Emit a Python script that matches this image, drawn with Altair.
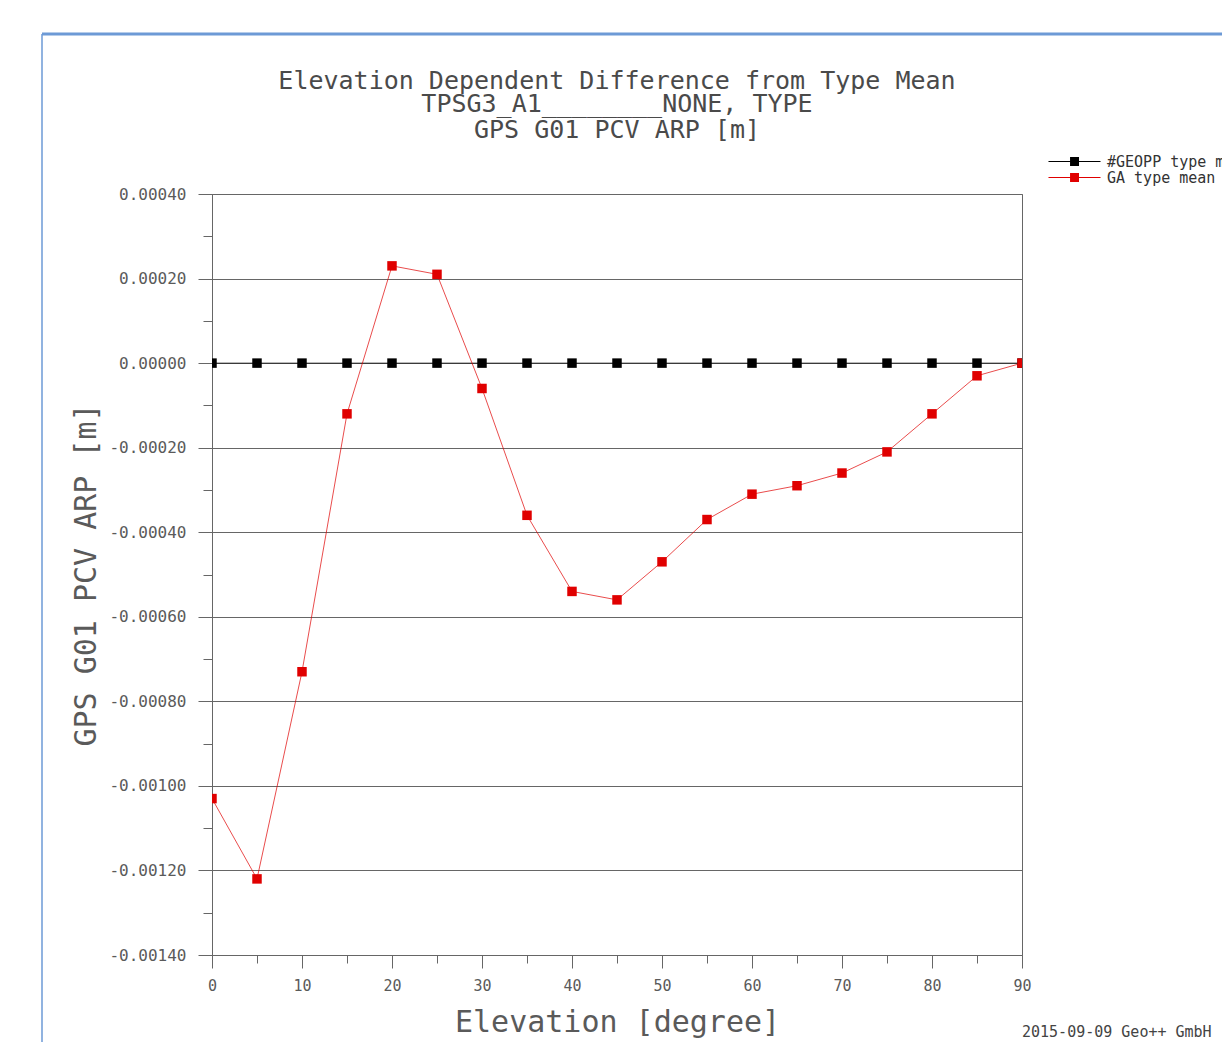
import altair as alt
import pandas as pd

# ---- data ----
elevation = [0, 5, 10, 15, 20, 25, 30, 35, 40, 45, 50, 55, 60, 65, 70, 75, 80, 85, 90]
geopp_mean = [0.0, 0.0, 0.0, 0.0, 0.0, 0.0, 0.0, 0.0, 0.0, 0.0,
              0.0, 0.0, 0.0, 0.0, 0.0, 0.0, 0.0, 0.0, 0.0]
ga_mean = [-0.00103, -0.00122, -0.00073, -0.00012, 0.00023, 0.00021, -0.00006,
           -0.00036, -0.00054, -0.00056, -0.00047, -0.00037, -0.00031, -0.00029,
           -0.00026, -0.00021, -0.00012, -0.00003, 0.0]
series_names = ["#GEOPP type mean", "GA type mean"]
series_colors = ["#000000", "#e00000"]
x_ticks = [0, 5, 10, 15, 20, 25, 30, 35, 40, 45, 50, 55, 60, 65, 70, 75, 80, 85, 90]
y_ticks = [-0.0014, -0.0013, -0.0012, -0.0011, -0.0010, -0.0009, -0.0008, -0.0007,
           -0.0006, -0.0005, -0.0004, -0.0003, -0.0002, -0.0001, 0.0, 0.0001,
           0.0002, 0.0003, 0.0004]
title_lines = ["Elevation Dependent Difference from Type Mean",
               "TPSG3_A1________NONE, TYPE",
               "GPS G01 PCV ARP [m]"]
footer_text = "2015-09-09 Geo++ GmbH"

rows = []
for name, vals in zip(series_names, [geopp_mean, ga_mean]):
    for e, v in zip(elevation, vals):
        rows.append({"elev": e, "val": v, "series": name})
df = pd.DataFrame(rows)

FONT = "DejaVu Sans Mono"
GRAY = "#666666"
TXT = "#5a5a5a"

x_enc = alt.X(
    "elev:Q",
    scale=alt.Scale(domain=[0, 90], nice=False, zero=False),
    axis=alt.Axis(
        values=x_ticks,
        labelExpr="datum.value % 10 === 0 ? datum.label : ''",
        tickSize={"condition": {"test": "datum.value % 10 !== 0", "value": 8}, "value": 13},
        labelPadding=10,
        labelFontSize=15,
        labelColor=TXT,
        labelFlush=False,
        labelOverlap=False,
        tickColor=GRAY,
        domainColor=GRAY,
        grid=False,
        title="Elevation [degree]",
        titleFontSize=30,
        titleFontWeight="normal",
        titleColor=TXT,
        titleBaseline="alphabetic",
        titleY=76,
    ),
)

minor_y = "round(datum.value*10000) % 2 !== 0"
y_enc = alt.Y(
    "val:Q",
    scale=alt.Scale(domain=[-0.0014, 0.0004], nice=False, zero=False),
    axis=alt.Axis(
        values=y_ticks,
        labelExpr="round(datum.value*10000) % 2 === 0 ? replace(format(datum.value, '.5f'), '\u2212', '-') : ''",
        tickSize={"condition": {"test": minor_y, "value": 9}, "value": 14},
        labelPadding=12,
        labelFontSize=16,
        labelColor=TXT,
        labelFlush=False,
        labelOverlap=False,
        tickColor=GRAY,
        domainColor=GRAY,
        grid=True,
        gridColor=GRAY,
        gridWidth=1.2,
        gridOpacity={"condition": {"test": minor_y, "value": 0}, "value": 1},
        title="GPS G01 PCV ARP [m]",
        titleFontSize=30,
        titleFontWeight="normal",
        titleColor=TXT,
        titleBaseline="alphabetic",
        titleX=-117,
        titleY=380.5,
    ),
)

legend_path = ("M-6.43,-0.07H1V0.07H-6.43Z "
               "M-3.35,-0.64H-2.07V0.64H-3.35Z")
legend = alt.Legend(
    title=None,
    orient="none",
    legendX=874,
    legendY=-40,
    symbolType=legend_path,
    symbolSize=196,
    symbolStrokeWidth=0,
    labelFontSize=15,
    labelColor="#333333",
    labelOffset=6,
    labelLimit=400,
    rowPadding=0,
    padding=0,
)
color_enc = alt.Color("series:N",
                      scale=alt.Scale(domain=series_names, range=series_colors),
                      legend=legend)

base = alt.Chart(df)

lines = base.mark_line(clip=True, strokeWidth=1, strokeOpacity=0.7).encode(
    x=x_enc, y=y_enc, color=color_enc,
)

points = base.mark_point(shape="square", filled=True, size=90, opacity=1, clip=True).encode(
    x=x_enc, y=y_enc, color=color_enc,
)

one = alt.Data(values=[{"k": 1}])
frame_top = alt.Chart(one).mark_rule(color="#6d9ad6", strokeWidth=3, clip=False).encode(
    x=alt.value(-170), x2=alt.value(1010), y=alt.value(-160)
)
frame_left = alt.Chart(one).mark_rule(color="#6d9ad6", strokeWidth=1.5, clip=False).encode(
    x=alt.value(-170), y=alt.value(-160), y2=alt.value(900)
)

title_layers = []
for line, ypos in zip(title_lines, [-105, -82, -56]):
    title_layers.append(
        alt.Chart(one).mark_text(
            text=line, font=FONT, fontSize=25, color="#4a4a4a",
            align="center", baseline="alphabetic", clip=False
        ).encode(x=alt.value(405), y=alt.value(ypos))
    )

footer = alt.Chart(one).mark_text(
    text=footer_text, font=FONT, fontSize=15, color="#444444",
    align="left", baseline="middle", clip=False
).encode(x=alt.value(810), y=alt.value(838))

chart = alt.layer(frame_top, frame_left, lines, points, *title_layers, footer).properties(
    width=810,
    height=761,
    autosize=alt.AutoSizeParams(type="none"),
    padding={"left": 204, "top": 186, "right": 200, "bottom": 87},
).configure(
    font=FONT,
    background="white",
).configure_view(
    stroke=GRAY, strokeWidth=1
).configure_axis(
    labelFont=FONT, titleFont=FONT
).configure_legend(
    labelFont=FONT
)

chart.save("out.html", embed_options={"renderer": "svg", "actions": False})
